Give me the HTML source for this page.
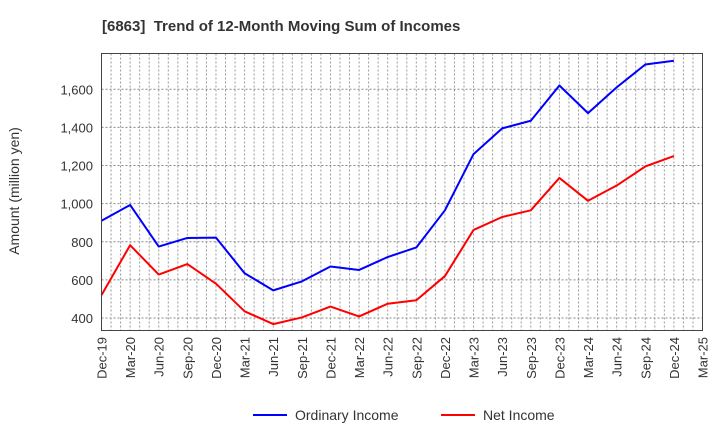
<!DOCTYPE html>
<html><head><meta charset="utf-8"><style>
body{margin:0;background:#fff;font-family:"Liberation Sans",sans-serif;}
</style></head><body>
<svg id="chart" width="720" height="440" xmlns="http://www.w3.org/2000/svg" font-family="Liberation Sans, sans-serif">
<text x="102" y="31" font-size="15" font-weight="bold" fill="#333">[6863]&#160; Trend of 12-Month Moving Sum of Incomes</text>
<text transform="translate(19,191) rotate(-90)" text-anchor="middle" font-size="14" fill="#333">Amount (million yen)</text>
<g id="grid"></g><g id="axes"></g><g id="series"></g>
<rect x="101.5" y="53.5" width="601" height="277" fill="none" stroke="#444" stroke-width="1"/>
<g>
<line x1="253" y1="415" x2="287" y2="415" stroke="#0000ff" stroke-width="2"/>
<text x="295" y="420" font-size="14" fill="#333">Ordinary Income</text>
<line x1="441" y1="415" x2="475" y2="415" stroke="#ff0000" stroke-width="2"/>
<text x="483" y="420" font-size="14" fill="#333">Net Income</text>
</g>
</svg>
<script>
const xLabels=["Dec-19","Mar-20","Jun-20","Sep-20","Dec-20","Mar-21","Jun-21","Sep-21","Dec-21","Mar-22","Jun-22","Sep-22","Dec-22","Mar-23","Jun-23","Sep-23","Dec-23","Mar-24","Jun-24","Sep-24","Dec-24","Mar-25"];
const yTicks=[400,600,800,1000,1200,1400,1600];
const ordinaryIncome=[910,993,775,820,822,635,545,592,670,652,720,770,965,1260,1395,1435,1620,1475,1610,1730,1750];
const netIncome=[520,782,628,683,580,435,368,403,460,408,475,493,620,862,930,965,1135,1015,1095,1195,1250];
const NS="http://www.w3.org/2000/svg";
const L=101.5,R=702.5,T=53.5,B=330.5;
const step=(R-L)/(xLabels.length-1);
const x=i=>L+i*step;
const y=v=>318-(v-400)*(228.7/1200);
function mk(t,a,p){const e=document.createElementNS(NS,t);for(const k in a)e.setAttribute(k,a[k]);p.appendChild(e);return e;}
const grid=document.getElementById('grid'),axes=document.getElementById('axes'),ser=document.getElementById('series');
for(let m=1;m<(xLabels.length-1)*3;m++){const gx=L+m*step/3;
 const g=mk('line',{x1:gx,x2:gx,y1:T,y2:B,stroke:'#999','stroke-width':1,'stroke-dasharray':'2,2'},grid);
 
 }
yTicks.forEach(v=>{const g=mk('line',{x1:L,x2:R,y1:y(v),y2:y(v),stroke:'#888','stroke-width':1,'stroke-dasharray':'2,2'},grid);
 
 
 const t=mk('text',{x:93,y:y(v)+5,'text-anchor':'end','font-size':13,fill:'#333'},axes);t.textContent=v.toLocaleString('en-US');
 
 });
xLabels.forEach((s,i)=>{const t=mk('text',{transform:`translate(${x(i)+5},337) rotate(-90)`,'text-anchor':'end','font-size':13,fill:'#333'},axes);t.textContent=s;
 
 });
function line(d,c,n){const p=mk('polyline',{points:d.map((v,i)=>x(i)+','+y(v)).join(' '),fill:'none',stroke:c,'stroke-width':2,'stroke-linejoin':'round'},ser);
 
 }
line(ordinaryIncome,'#0000ff','ordinary-income-line');
line(netIncome,'#ff0000','net-income-line');
</script>
</body></html>
